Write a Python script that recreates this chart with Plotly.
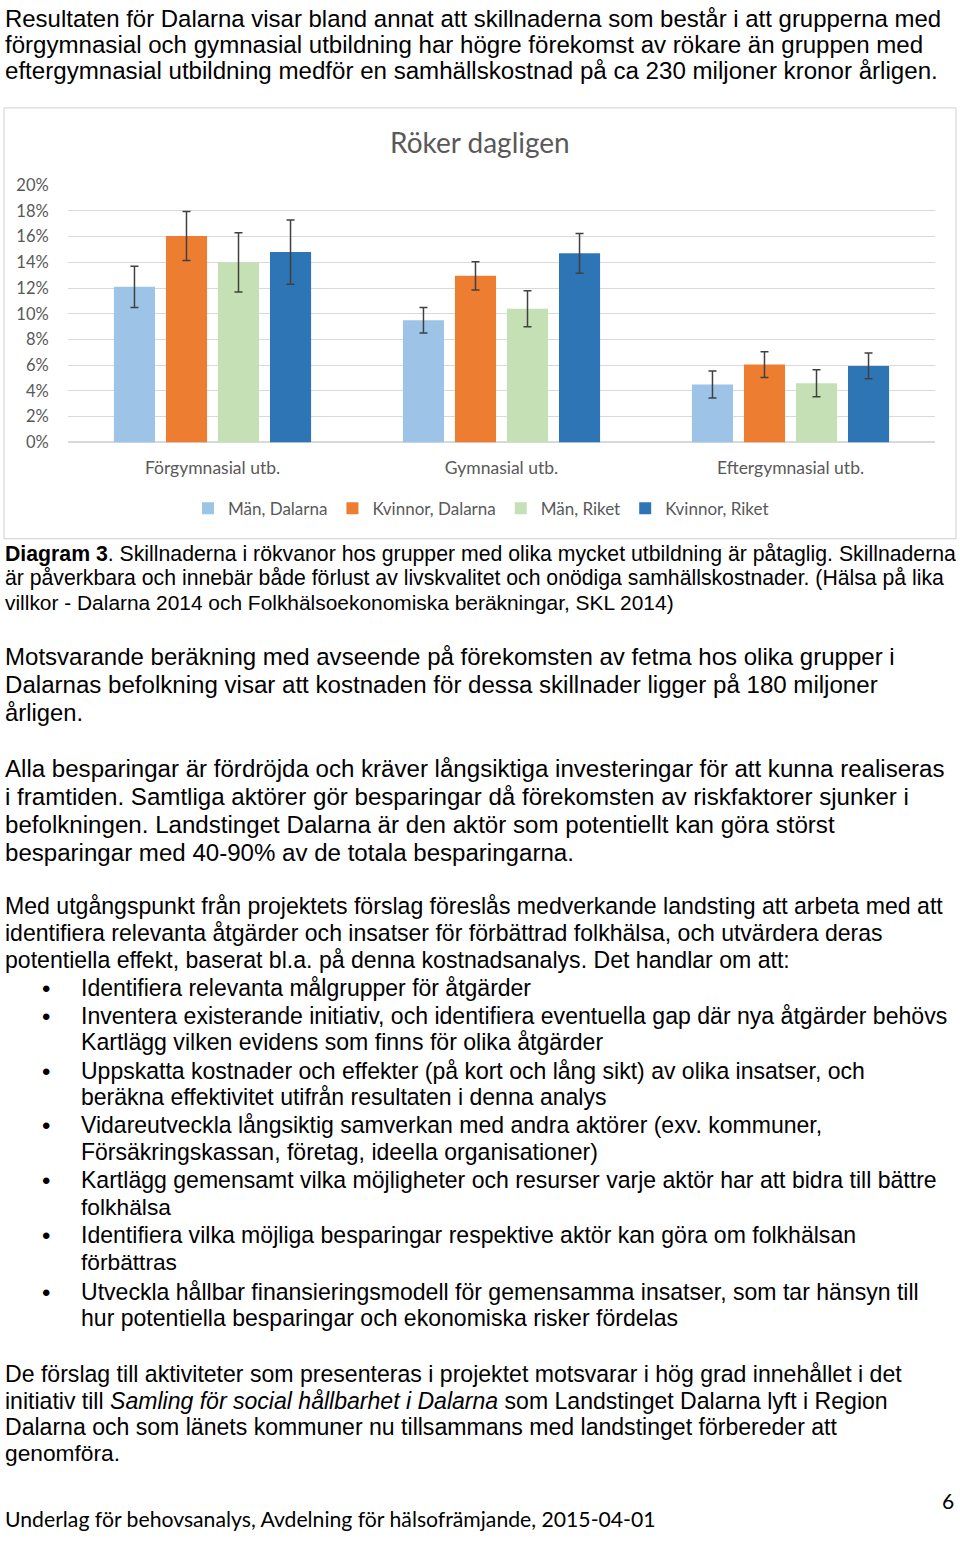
import re
import plotly.graph_objects as go

W, H = 960, 1541

categories = ["Förgymnasial utb.", "Gymnasial utb.", "Eftergymnasial utb."]
series_names = ["Män, Dalarna", "Kvinnor, Dalarna", "Män, Riket", "Kvinnor, Riket"]
man_dalarna = [0.121, 0.095, 0.045]
kvinnor_dalarna = [0.1605, 0.1295, 0.0605]
man_riket = [0.140, 0.104, 0.046]
kvinnor_riket = [0.148, 0.147, 0.0595]
err_man_dalarna = [0.016, 0.010, 0.0105]
err_kvinnor_dalarna = [0.019, 0.011, 0.010]
err_man_riket = [0.023, 0.014, 0.0105]
err_kvinnor_riket = [0.025, 0.0155, 0.010]
y_ticks = [0, 0.02, 0.04, 0.06, 0.08, 0.10, 0.12, 0.14, 0.16, 0.18, 0.20]
y_tick_labels = ["0%", "2%", "4%", "6%", "8%", "10%", "12%", "14%", "16%", "18%", "20%"]

colors = ["#9DC3E6", "#ED7D31", "#C5E0B4", "#2E75B6"]
values = [man_dalarna, kvinnor_dalarna, man_riket, kvinnor_riket]
errors = [err_man_dalarna, err_kvinnor_dalarna, err_man_riket, err_kvinnor_riket]

CHART_FONT = "Lato"
BODY_FONT = "Liberation Sans"

# Helvetica/Arial advance widths (1/1000 em) used to fit each line's width
_HW = {" ": 278, "(": 333, ")": 333, ",": 278, "-": 333, ".": 278, ":": 278, "%": 889}
for c in "0123456789":
    _HW[c] = 556
_HW.update(dict(zip("ABCDEFGHIJKLMNOPQRSTUVWXYZ",
                    [667, 667, 722, 722, 667, 611, 778, 722, 278, 500, 667, 556, 833, 722, 778,
                     667, 778, 722, 667, 611, 722, 667, 944, 667, 667, 611])))
_HW.update(dict(zip("abcdefghijklmnopqrstuvwxyz",
                    [556, 556, 500, 556, 556, 278, 556, 556, 222, 222, 500, 222, 833, 556, 556,
                     556, 556, 333, 500, 278, 556, 500, 722, 500, 500, 500])))
_HW.update({"å": 556, "ä": 556, "ö": 556, "Ä": 667, "Å": 667, "Ö": 778, "•": 350})


def em_width(s):
    bold_extra = 0
    m = re.search(r"<b>(.*?)</b>", s)
    if m:
        bold_extra = 223 / 1000.0 if m.group(1) == "Diagram 3" else 0
    plain = re.sub(r"<[^>]+>", "", s)
    return sum(_HW.get(ch, 556) for ch in plain) / 1000.0 + bold_extra


fig = go.Figure()
for name, vals, errs, col in zip(series_names, values, errors, colors):
    fig.add_trace(go.Bar(
        x=categories, y=vals, name=name, marker=dict(color=col, line=dict(width=0)),
        error_y=dict(type="data", array=errs, visible=True, color="#404040",
                     thickness=1.5, width=4),
    ))

# the captured picture shows the figure's 1541 px squeezed into rows ~9..1531,
# so page positions are mapped through that to figure positions
Y_OFF, Y_SCALE = 9.0, 0.98765


def px_x(x):
    return x / W


def px_y(y):
    fy = (y - Y_OFF) / Y_SCALE
    return 1 - fy / H


plot_left, plot_right = 68, 935
plot_top, plot_bottom = 184.3, 441.7

fig.update_layout(
    width=W, height=H,
    margin=dict(l=0, r=0, t=0, b=0),
    paper_bgcolor="white", plot_bgcolor="white",
    barmode="group", bargap=0.28, bargroupgap=0.21,
    showlegend=True,
    legend=dict(orientation="h", x=px_x(481), xanchor="center", y=px_y(508), yanchor="middle",
                font=dict(family=CHART_FONT, size=17, color="#595959"),
                itemclick=False, traceorder="normal"),
    xaxis=dict(domain=[px_x(plot_left), px_x(plot_right)], showgrid=False, showline=False,
               ticks="outside", ticklen=10, tickcolor="rgba(0,0,0,0)",
               tickfont=dict(family=CHART_FONT, size=17.5, color="#595959"), zeroline=False),
    yaxis=dict(domain=[px_y(plot_bottom), px_y(plot_top)], range=[0, 0.20],
               tickvals=y_ticks, ticktext=y_tick_labels,
               showgrid=True, gridcolor="#D9D9D9", gridwidth=1, zeroline=True,
               zerolinecolor="#D9D9D9", zerolinewidth=1.5, showline=False,
               ticks="outside", ticklen=15, tickcolor="rgba(0,0,0,0)",
               tickfont=dict(family=CHART_FONT, size=16.5, color="#595959")),
)

# chart border
fig.add_shape(type="rect", xref="paper", yref="paper",
              x0=px_x(4), x1=px_x(956), y0=px_y(538), y1=px_y(107),
              line=dict(color="#D9D9D9", width=1.2), fillcolor="rgba(0,0,0,0)", layer="below")

anns = []


def text(x, y, s, size, family=BODY_FONT, color="#000000", anchor="left"):
    anns.append(dict(x=px_x(x), y=px_y(y), xref="paper", yref="paper", text=s,
                     showarrow=False, xanchor=anchor, yanchor="middle",
                     font=dict(family=family, size=size, color=color)))


def fitted(x0, x1, y, s, family=BODY_FONT, maxsize=24.5):
    size = min((x1 - x0) / em_width(s), maxsize)
    text(x0 - 1, y, s, round(size, 2), family)


text(480, 141, "Röker dagligen", 28, CHART_FONT, "#595959", "center")

# (y, right end in px, text)
para_lines = [
    (18, 940, "Resultaten för Dalarna visar bland annat att skillnaderna som består i att grupperna med"),
    (44, 922, "förgymnasial och gymnasial utbildning har högre förekomst av rökare än gruppen med"),
    (70, 937, "eftergymnasial utbildning medför en samhällskostnad på ca 230 miljoner kronor årligen."),
    (656, 894, "Motsvarande beräkning med avseende på förekomsten av fetma hos olika grupper i"),
    (684, 877, "Dalarnas befolkning visar att kostnaden för dessa skillnader ligger på 180 miljoner"),
    (712, 82, "årligen."),
    (768, 944, "Alla besparingar är fördröjda och kräver långsiktiga investeringar för att kunna realiseras"),
    (796, 908, "i framtiden. Samtliga aktörer gör besparingar då förekomsten av riskfaktorer sjunker i"),
    (824, 834, "befolkningen. Landstinget Dalarna är den aktör som potentiellt kan göra störst"),
    (852, 573, "besparingar med 40-90% av de totala besparingarna."),
    (906, 942, "Med utgångspunkt från projektets förslag föreslås medverkande landsting att arbeta med att"),
    (933, 882, "identifiera relevanta åtgärder och insatser för förbättrad folkhälsa, och utvärdera deras"),
    (960, 789, "potentiella effekt, baserat bl.a. på denna kostnadsanalys. Det handlar om att:"),
    (1374, 901, "De förslag till aktiviteter som presenteras i projektet motsvarar i hög grad innehållet i det"),
    (1401, 887, "initiativ till <i>Samling för social hållbarhet i Dalarna</i> som Landstinget Dalarna lyft i Region"),
    (1427, 836, "Dalarna och som länets kommuner nu tillsammans med landstinget förbereder att"),
    (1453, 119, "genomföra."),
]
for y, xe, s in para_lines:
    fitted(4, xe, y, s)

bullet_lines = [
    (988, True, 530, "Identifiera relevanta målgrupper för åtgärder"),
    (1016, True, 948, "Inventera existerande initiativ, och identifiera eventuella gap där nya åtgärder behövs"),
    (1042, False, 602, "Kartlägg vilken evidens som finns för olika åtgärder"),
    (1071, True, 866, "Uppskatta kostnader och effekter (på kort och lång sikt) av olika insatser, och"),
    (1097, False, 606, "beräkna effektivitet utifrån resultaten i denna analys"),
    (1125, True, 825, "Vidareutveckla långsiktig samverkan med andra aktörer (exv. kommuner,"),
    (1152, False, 597, "Försäkringskassan, företag, ideella organisationer)"),
    (1180, True, 936, "Kartlägg gemensamt vilka möjligheter och resurser varje aktör har att bidra till bättre"),
    (1207, False, 170, "folkhälsa"),
    (1235, True, 855, "Identifiera vilka möjliga besparingar respektive aktör kan göra om folkhälsan"),
    (1262, False, 176, "förbättras"),
    (1292, True, 919, "Utveckla hållbar finansieringsmodell för gemensamma insatser, som tar hänsyn till"),
    (1318, False, 677, "hur potentiella besparingar och ekonomiska risker fördelas"),
]
for y, b, xe, s in bullet_lines:
    if b:
        text(40, y, "•", 24)
    fitted(80, xe, y, s)

caption = [
    (553, 955, "<b>Diagram 3</b>. Skillnaderna i rökvanor hos grupper med olika mycket utbildning är påtaglig. Skillnaderna"),
    (577, 944, "är påverkbara och innebär både förlust av livskvalitet och onödiga samhällskostnader. (Hälsa på lika"),
    (602, 675, "villkor - Dalarna 2014 och Folkhälsoekonomiska beräkningar, SKL 2014)"),
]
for y, xe, s in caption:
    fitted(4, xe, y, s)

text(956, 1500, "6", 21, CHART_FONT, "#000000", "right")
text(3, 1519, "Underlag för behovsanalys, Avdelning för hälsofrämjande, 2015-04-01", 21.2, CHART_FONT)

fig.update_layout(annotations=anns)

post = (
    "document.documentElement.style.margin='0';document.documentElement.style.padding='0';"
    "document.documentElement.style.overflow='hidden';"
    "document.body.style.margin='0';document.body.style.padding='0';document.body.style.overflow='hidden';"
    "var gd=document.querySelector('.plotly-graph-div');"
    "gd.style.position='absolute';gd.style.top='0px';gd.style.left='0px';"
)
fig.write_html("out.html", config={"displayModeBar": False}, post_script=post)
